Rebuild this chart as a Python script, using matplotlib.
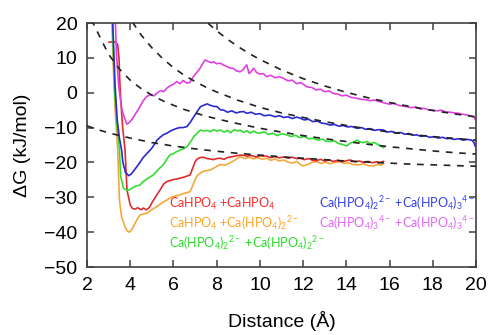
import matplotlib
matplotlib.use("Agg")
import matplotlib.pyplot as plt

plt.rcParams['font.family'] = ['Liberation Sans', 'DejaVu Sans']
plt.rcParams['mathtext.fontset'] = 'custom'
plt.rcParams['mathtext.rm'] = 'Lato'
plt.rcParams['mathtext.it'] = 'Lato:italic'
plt.rcParams['mathtext.bf'] = 'Lato:bold'

# --- PMF curves (distance in A, dG in kJ/mol) ---
mag_x = [3.28, 3.31, 3.36, 3.47, 3.62, 3.77, 3.84, 3.95, 4.1, 4.3, 4.45, 4.6, 4.76, 4.95, 5.1, 5.22,
         5.4, 5.55, 5.69, 5.85, 6.0, 6.15, 6.3, 6.45, 6.61, 6.75, 6.92, 7.08, 7.23, 7.35, 7.46, 7.6,
         7.75, 7.85, 8.0, 8.15, 8.3, 8.5, 8.65, 8.77, 8.9, 9.08, 9.2, 9.32, 9.39, 9.5, 9.62, 9.7,
         9.85, 10.0, 10.15, 10.32, 10.5, 10.7, 10.9, 11.1, 11.3, 11.5, 11.7, 11.9, 12.17, 12.4, 12.6,
         12.8, 13.0, 13.2, 13.4, 13.6, 13.8, 14.0, 14.2, 14.48, 14.7, 14.9, 15.1, 15.3, 15.56, 15.8,
         16.0, 16.2, 16.4, 16.6, 16.8, 17.0, 17.2, 17.4, 17.6, 17.8, 18.0, 18.2, 18.4, 18.6, 18.8,
         19.0, 19.2, 19.4, 19.6, 19.8, 19.9, 20.0]
mag_y = [22, 20.9, 11.4, 1.7, -5.0, -7.8, -9.0, -8.6, -7.5, -5.5, -4.0, -2.3, -1.1, -0.5, -0.9, -0.2,
         0.6, 0.3, 1.3, 2.0, 2.4, 3.2, 2.6, 3.5, 2.8, 2.9, 4.6, 5.8, 7.0, 8.3, 9.4, 9.0,
         8.6, 8.9, 8.3, 8.5, 8.0, 7.4, 7.0, 7.0, 6.3, 6.0, 6.5, 7.4, 8.0, 5.5, 6.2, 7.0,
         5.8, 5.3, 5.5, 4.6, 5.0, 4.3, 4.6, 4.1, 3.4, 3.6, 2.6, 2.9, 1.7, 1.5, 0.8,
         1.0, 0.3, 0.5, -0.2, -0.4, -0.9, -0.7, -1.3, -1.6, -1.9, -2.0, -2.3, -2.1, -2.6, -3.0,
         -3.3, -3.0, -3.6, -3.8, -4.0, -4.3, -4.1, -4.6, -4.5, -4.9, -5.0, -5.2, -5.0, -5.5, -5.6,
         -5.8, -5.9, -6.2, -6.4, -6.8, -6.9, -8.0]

blue_x = [3.18, 3.22, 3.3, 3.4, 3.5, 3.6, 3.66, 3.78, 3.93, 4.05, 4.15, 4.31, 4.45, 4.6, 4.78, 4.99,
          5.1, 5.24, 5.4, 5.55, 5.7, 5.85, 6.0, 6.17, 6.3, 6.45, 6.63, 6.8, 6.94, 7.1, 7.25, 7.4,
          7.56, 7.7, 7.85, 8.02, 8.17, 8.33, 8.5, 8.7, 8.9, 9.08, 9.24, 9.4, 9.6, 9.8, 10.0, 10.2,
          10.47, 10.7, 10.9, 11.1, 11.3, 11.5, 11.7, 11.86, 12.05, 12.25, 12.45, 12.65, 12.85, 13.05,
          13.25, 13.45, 13.65, 13.85, 14.05, 14.25, 14.49, 14.7, 14.9, 15.1, 15.3, 15.5, 15.72, 15.9,
          16.1, 16.3, 16.5, 16.7, 16.9, 17.1, 17.26, 17.45, 17.65, 17.85, 18.05, 18.25, 18.45, 18.65,
          18.8, 19.0, 19.2, 19.4, 19.6, 19.8, 19.9, 19.96]
blue_y = [22, 15, 2, -8, -13, -16.4, -20, -22.8, -23.8, -23.3, -22.5, -21.2, -20.0, -18.6, -17.4, -16.0,
          -15.0, -13.6, -12.7, -12.0, -11.6, -11.0, -10.6, -10.2, -10.0, -10.0, -9.7, -8.3, -6.9, -5.4, -4.0, -3.6,
          -3.2, -3.6, -3.9, -4.0, -4.9, -5.0, -5.6, -5.2, -5.8, -5.5, -5.4, -5.9, -5.6, -6.2, -6.0, -6.6,
          -6.4, -6.9, -6.6, -7.1, -6.9, -7.4, -7.0, -7.3, -7.8, -7.6, -8.3, -8.1, -8.7, -8.9,
          -9.3, -9.1, -9.6, -9.4, -9.8, -9.7, -10.2, -10.0, -10.5, -10.3, -10.8, -10.6, -10.7, -11.3,
          -11.1, -11.6, -11.4, -11.9, -11.7, -12.2, -12.1, -12.5, -12.3, -12.8, -12.6, -13.0, -12.8, -13.2,
          -13.1, -13.4, -13.2, -13.6, -13.4, -13.6, -14.2, -15.3]

green_x = [3.16, 3.2, 3.28, 3.4, 3.5, 3.56, 3.69, 3.85, 3.96, 4.1, 4.25, 4.45, 4.6, 4.8, 5.07, 5.3,
           5.53, 5.7, 5.84, 6.0, 6.15, 6.32, 6.48, 6.63, 6.8, 6.94, 7.1, 7.25, 7.4, 7.55, 7.71, 7.85,
           8.0, 8.17, 8.35, 8.5, 8.65, 8.8, 9.0, 9.08, 9.25, 9.4, 9.55, 9.7, 9.85, 10.0, 10.2, 10.4,
           10.6, 10.8, 11.0, 11.25, 11.45, 11.65, 11.85, 12.05, 12.25, 12.48, 12.7, 12.9, 13.05, 13.25,
           13.45, 13.65, 13.85, 14.0, 14.18, 14.35, 14.49, 14.65, 14.8, 14.95, 15.1, 15.3, 15.5, 15.72]
green_y = [22, 15, 0, -10, -16.4, -24, -27.4, -28.0, -27.9, -27.3, -26.8, -26.5, -25.5, -24.6, -23.6, -22.0,
           -20.7, -19.0, -17.8, -17.5, -16.9, -16.4, -16.0, -15.5, -14.0, -12.6, -11.6, -10.7, -11.0, -10.8, -11.2, -10.6,
           -11.0, -10.7, -11.3, -10.8, -11.5, -10.6, -11.0, -10.7, -11.4, -10.9, -11.6, -11.0, -11.5, -11.6, -11.2, -12.0,
           -11.6, -12.3, -11.8, -12.1, -12.6, -12.2, -12.9, -12.5, -13.2, -13.1, -13.6, -13.3, -13.9, -14.0,
           -13.8, -14.6, -14.9, -15.3, -14.5, -14.1, -13.6, -14.2, -14.3, -14.0, -14.6, -14.3, -15.0, -15.7]

red_x = [3.02, 3.3, 3.42, 3.48, 3.52, 3.56, 3.65, 3.76, 3.85, 4.0, 4.1, 4.22, 4.35, 4.5, 4.6, 4.76,
         4.9, 4.99, 5.2, 5.38, 5.55, 5.69, 5.85, 6.0, 6.15, 6.3, 6.5, 6.77, 6.9, 7.0, 7.1, 7.23,
         7.4, 7.55, 7.7, 7.85, 8.0, 8.16, 8.35, 8.5, 8.7, 8.9, 9.08, 9.24, 9.4, 9.6, 9.8, 10.0,
         10.3, 10.5, 10.7, 10.9, 11.1, 11.3, 11.5, 11.7, 11.86, 12.05, 12.25, 12.45, 12.63, 12.8,
         13.0, 13.2, 13.4, 13.6, 13.8, 14.0, 14.18, 14.4, 14.6, 14.8, 15.0, 15.2, 15.4, 15.56, 15.65, 15.72]
red_y = [14.5, 14.6, 13.8, 10, 3, -2, -10, -16.4, -27.9, -32.2, -33.2, -33.4, -33.0, -33.6, -33.1, -33.6,
         -32.8, -31.7, -29.6, -27.9, -26.2, -25.5, -25.2, -24.9, -24.8, -24.5, -24.2, -23.6, -21.5, -19.8, -19.0, -18.6,
         -18.5, -18.9, -19.0, -19.2, -18.9, -18.8, -19.1, -18.6, -18.4, -18.1, -17.9, -17.9, -18.2, -18.0, -18.4, -18.1,
         -18.2, -18.6, -18.3, -18.7, -18.4, -18.8, -18.5, -18.9, -18.8, -19.2, -18.9, -19.4, -19.5, -19.1,
         -19.6, -19.3, -19.7, -19.4, -19.8, -19.5, -19.3, -19.8, -19.6, -20.0, -19.7, -20.1, -19.8, -20.1, -19.8, -19.7]

orange_x = [3.15, 3.2, 3.3, 3.42, 3.5, 3.6, 3.76, 3.88, 3.96, 4.1, 4.22, 4.35, 4.45, 4.6, 4.76, 5.0,
            5.22, 5.45, 5.69, 5.9, 6.1, 6.3, 6.5, 6.77, 6.9, 7.0, 7.1, 7.23, 7.45, 7.7, 7.9, 8.16,
            8.4, 8.6, 8.8, 9.08, 9.3, 9.5, 9.7, 9.9, 10.1, 10.3, 10.5, 10.7, 10.9, 11.1, 11.3, 11.5,
            11.7, 11.85, 12.0, 12.2, 12.4, 12.63, 12.85, 13.05, 13.25, 13.45, 13.7, 13.9, 14.1, 14.3,
            14.6, 14.8, 15.0, 15.25, 15.45, 15.6, 15.72]
orange_y = [22, 10, -5, -16.4, -30.8, -35.6, -38.5, -39.8, -40.0, -39.0, -37.5, -36.0, -35.1, -34.8, -34.6, -33.6,
            -32.7, -31.7, -30.8, -30.0, -29.6, -29.3, -28.9, -28.4, -26.5, -25.0, -23.8, -23.1, -22.4, -22.2, -21.5, -20.6,
            -20.8, -20.2, -19.5, -18.3, -18.9, -18.5, -19.0, -18.6, -19.1, -18.8, -19.4, -19.0, -19.6, -19.3, -19.9, -20.2,
            -19.7, -20.5, -21.0, -20.6, -20.0, -19.8, -20.3, -19.9, -20.4, -20.0, -19.8, -20.3, -20.1, -20.6,
            -20.7, -20.4, -20.9, -21.0, -20.6, -20.8, -20.3]

# --- dashed guide curves ---
dashA_x = [7.6, 8.0, 8.5, 9.0, 9.5, 10, 11, 12, 13, 14, 15, 16, 17, 18, 19, 20]
dashA_y = [19.93, 17.76, 15.34, 13.19, 11.26, 9.53, 6.54, 4.04, 1.93, 0.12, -1.45, -2.82, -4.03, -5.11, -6.07, -6.93]
dashB_x = [4.1, 4.5, 5.0, 5.5, 6.0, 6.5, 7.0, 7.5, 8.0, 8.5, 9.0, 10, 11, 12, 13, 14, 15, 16, 17, 18, 19, 20]
dashB_y = [20.3, 16.6, 12.9, 9.8, 7.2, 5.0, 3.2, 1.6, 0.2, -1.0, -2.2, -4.2, -5.8, -7.1, -8.3, -9.4, -10.4,
           -11.3, -12.0, -12.6, -13.1, -13.6]
dashC_x = [2.2, 2.5, 3.0, 3.5, 4.0, 4.5, 5.0, 5.5, 6.0, 6.5, 7.0, 7.5, 8.0, 9, 10, 11, 12, 13, 14, 15, 16,
           17, 18, 19, 20]
dashC_y = [21, 17.2, 11.0, 6.8, 3.6, 1.2, -0.7, -2.3, -3.6, -4.8, -5.8, -6.7, -7.5, -8.9, -10.2, -11.3, -12.3,
           -13.2, -14.0, -14.8, -15.5, -16.1, -16.7, -17.2, -17.6]
dashD_x = [2.0, 2.5, 3.0, 3.5, 4.0, 5, 6, 7, 8, 9, 10, 11, 12, 13, 14, 15, 16, 17, 18, 19, 20]
dashD_y = [-9.5, -10.6, -11.5, -12.3, -13.0, -14.3, -15.3, -16.1, -16.8, -17.4, -17.9, -18.4, -18.8, -19.2,
           -19.6, -19.9, -20.2, -20.5, -20.7, -20.9, -21.1]

labels = [r'CaHPO$_4$ +CaHPO$_4$',
          r'CaHPO$_4$ +Ca(HPO$_4$)$_2$$^{2-}$',
          r'Ca(HPO$_4$)$_2$$^{2-}$ +Ca(HPO$_4$)$_2$$^{2-}$',
          r'Ca(HPO$_4$)$_2$$^{2-}$ +Ca(HPO$_4$)$_3$$^{4-}$',
          r'Ca(HPO$_4$)$_3$$^{4-}$ +Ca(HPO$_4$)$_3$$^{4-}$']
label_pos = [(5.8, -33.0), (5.8, -38.9), (5.8, -44.6), (12.74, -33.0), (12.74, -38.9)]
text_colors = ['#ff2a2a', '#ffa321', '#26e026', '#3340ee', '#e066f5']

fig = plt.figure(figsize=(4.91, 3.35), dpi=100)
ax = fig.add_axes([87/491, 1 - 267/335, 389/491, 244/335])

ax.plot(orange_x, orange_y, color='#f2a93b', lw=1.2)
ax.plot(red_x, red_y, color='#dd2c2c', lw=1.2)
ax.plot(green_x, green_y, color='#33dd33', lw=1.2)
ax.plot(blue_x, blue_y, color='#2a2ad4', lw=1.2)
ax.plot(mag_x, mag_y, color='#e040e0', lw=1.2)

for dx, dy in [(dashA_x, dashA_y), (dashB_x, dashB_y), (dashC_x, dashC_y), (dashD_x, dashD_y)]:
    ax.plot(dx, dy, color='#222222', lw=1.2, linestyle=(0, (4, 4)), zorder=3)

for lab, (tx, ty), c in zip(labels, label_pos, text_colors):
    ax.text(tx, ty, lab, color=c, fontsize=9, family='Lato', va='baseline', ha='left')

ax.set_xlim(2, 20)
ax.set_ylim(-50, 20)
ax.set_xticks(range(2, 21, 2))
ax.set_yticks(range(-50, 21, 10))
ax.tick_params(direction='in', length=5, width=1.1, color='#404040', top=True, right=True,
               labelsize=14, pad=7)
for s in ax.spines.values():
    s.set_color('#404040')
    s.set_linewidth(1.2)

ax.set_xlabel('Distance (Å)', fontsize=14)
ax.set_ylabel('ΔG (kJ/mol)', fontsize=14)
ax.xaxis.set_label_coords(0.5, -0.18)
ax.yaxis.set_label_coords(-0.145, 0.5)

fig.savefig('out.png', dpi=100)
